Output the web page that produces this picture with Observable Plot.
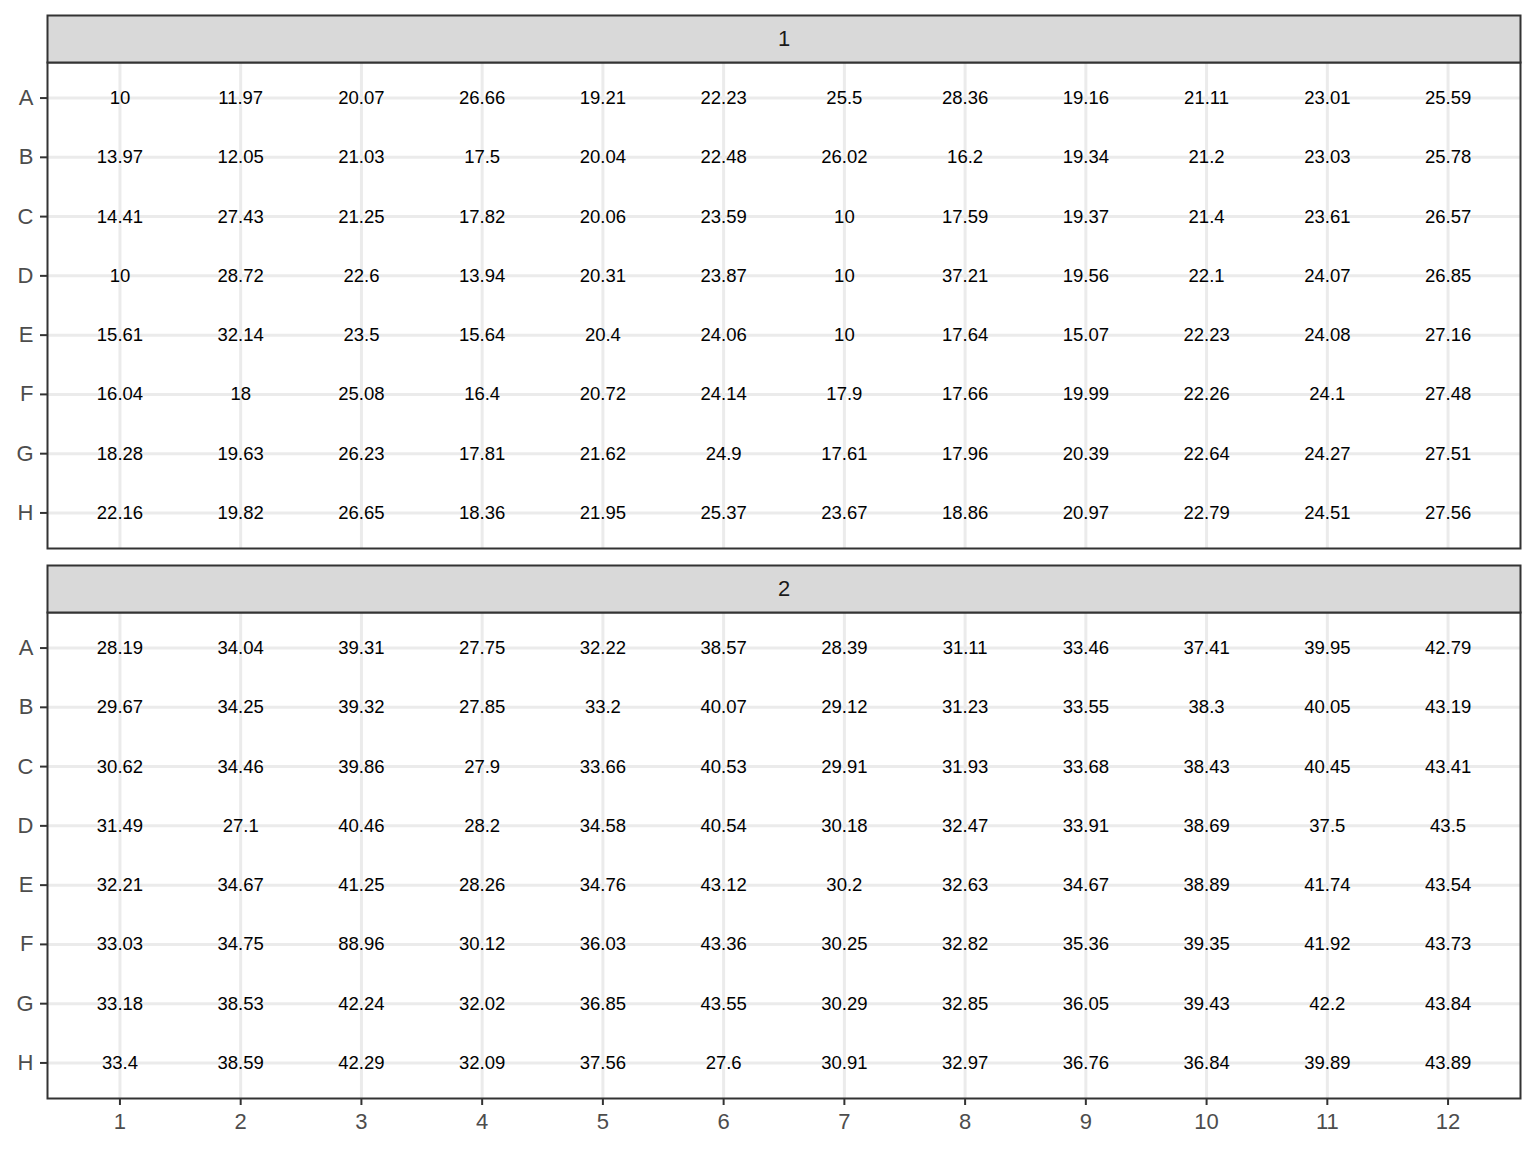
<!DOCTYPE html>
<html>
<head>
<meta charset="utf-8">
<script src="https://cdn.jsdelivr.net/npm/d3@7"></script>
<script src="https://cdn.jsdelivr.net/npm/@observablehq/plot@0.6"></script>
<style>
  html, body { margin: 0; padding: 0; background: #ffffff; }
  #chart svg { display: block; }
  #chart g[aria-label$="tick label"] { font-size: 22px; }
  #chart g[aria-label$="tick label"] text { font-size: 22px; }
</style>
</head>
<body>
<div id="chart"></div>
<script>
// ---- data ----
const plates = ["1", "2"];
const rows = ["A", "B", "C", "D", "E", "F", "G", "H"];
const columns = [1, 2, 3, 4, 5, 6, 7, 8, 9, 10, 11, 12];

const plate1 = [
  [10, 11.97, 20.07, 26.66, 19.21, 22.23, 25.5, 28.36, 19.16, 21.11, 23.01, 25.59],
  [13.97, 12.05, 21.03, 17.5, 20.04, 22.48, 26.02, 16.2, 19.34, 21.2, 23.03, 25.78],
  [14.41, 27.43, 21.25, 17.82, 20.06, 23.59, 10, 17.59, 19.37, 21.4, 23.61, 26.57],
  [10, 28.72, 22.6, 13.94, 20.31, 23.87, 10, 37.21, 19.56, 22.1, 24.07, 26.85],
  [15.61, 32.14, 23.5, 15.64, 20.4, 24.06, 10, 17.64, 15.07, 22.23, 24.08, 27.16],
  [16.04, 18, 25.08, 16.4, 20.72, 24.14, 17.9, 17.66, 19.99, 22.26, 24.1, 27.48],
  [18.28, 19.63, 26.23, 17.81, 21.62, 24.9, 17.61, 17.96, 20.39, 22.64, 24.27, 27.51],
  [22.16, 19.82, 26.65, 18.36, 21.95, 25.37, 23.67, 18.86, 20.97, 22.79, 24.51, 27.56]
];

const plate2 = [
  [28.19, 34.04, 39.31, 27.75, 32.22, 38.57, 28.39, 31.11, 33.46, 37.41, 39.95, 42.79],
  [29.67, 34.25, 39.32, 27.85, 33.2, 40.07, 29.12, 31.23, 33.55, 38.3, 40.05, 43.19],
  [30.62, 34.46, 39.86, 27.9, 33.66, 40.53, 29.91, 31.93, 33.68, 38.43, 40.45, 43.41],
  [31.49, 27.1, 40.46, 28.2, 34.58, 40.54, 30.18, 32.47, 33.91, 38.69, 37.5, 43.5],
  [32.21, 34.67, 41.25, 28.26, 34.76, 43.12, 30.2, 32.63, 34.67, 38.89, 41.74, 43.54],
  [33.03, 34.75, 88.96, 30.12, 36.03, 43.36, 30.25, 32.82, 35.36, 39.35, 41.92, 43.73],
  [33.18, 38.53, 42.24, 32.02, 36.85, 43.55, 30.29, 32.85, 36.05, 39.43, 42.2, 43.84],
  [33.4, 38.59, 42.29, 32.09, 37.56, 27.6, 30.91, 32.97, 36.76, 36.84, 39.89, 43.89]
];

// ---- tidy table built from the arrays ----
const plateValues = {"1": plate1, "2": plate2};
const cells = [];
for (const p of plates) {
  plateValues[p].forEach((vals, i) => {
    vals.forEach((v, j) => {
      cells.push({plate: p, row: rows[i], col: columns[j], value: v});
    });
  });
}

// ---- layout ----
const W = 1536, H = 1152;
const mTop = 62, mBottom = 54, mLeft = 47, mRight = 16;
const panelH = 486, stripH = 47, gap = 64;
const step = panelH + gap;
const padInner = gap / step;

const font = "'Liberation Sans', Arial, Helvetica, sans-serif";

const chart = Plot.plot({
  width: W,
  height: H,
  marginTop: mTop,
  marginBottom: mBottom,
  marginLeft: mLeft,
  marginRight: mRight,
  style: {fontFamily: font, background: "#ffffff", color: "#000"},
  x: {type: "point", domain: columns, padding: 0.6, round: false, axis: null},
  y: {type: "point", domain: rows, padding: 0.6, round: false, axis: null},
  fy: {domain: plates, paddingInner: padInner, paddingOuter: 0, round: false, axis: null},
  marks: [
    Plot.gridX(columns, {stroke: "#ebebeb", strokeOpacity: 1, strokeWidth: 3}),
    Plot.gridY(rows, {stroke: "#ebebeb", strokeOpacity: 1, strokeWidth: 3}),
    Plot.text(cells, {
      x: "col", y: "row", fy: "plate",
      text: d => String(d.value),
      fontSize: 18.5, fill: "#000000"
    }),
    Plot.frame({stroke: "#333333", strokeWidth: 2, fill: "none"}),
    Plot.frame({fill: "#d9d9d9", stroke: "#333333", strokeWidth: 2, insetTop: -stripH, insetBottom: panelH}),
    Plot.text(plates, {
      fy: d => d, text: d => d,
      frameAnchor: "top", lineAnchor: "middle", dy: -stripH / 2,
      fontSize: 22, fill: "#1a1a1a"
    }),
    Plot.axisY({
      anchor: "left", label: null, tickSize: 7, tickPadding: 7,
      fontSize: 22, fill: "#4d4d4d", stroke: "#333333", strokeWidth: 2
    }),
    Plot.axisX({
      anchor: "bottom", label: null, tickSize: 7, tickPadding: 8,
      fontSize: 22, fill: "#4d4d4d", stroke: "#333333", strokeWidth: 2
    })
  ]
});

document.getElementById("chart").appendChild(chart);
</script>
</body>
</html>
